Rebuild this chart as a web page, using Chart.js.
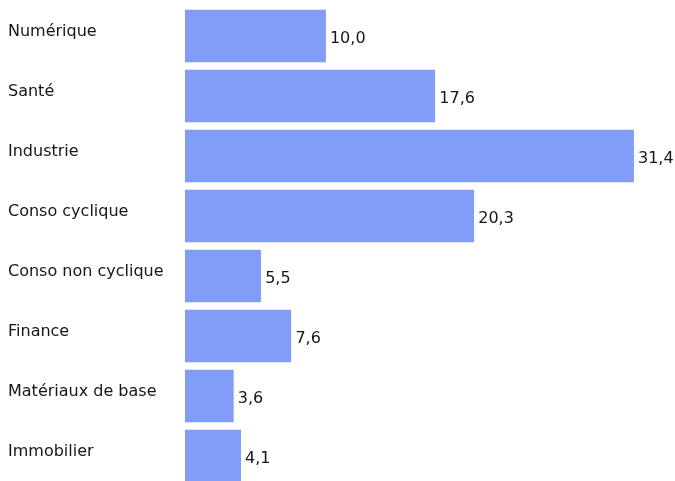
<!DOCTYPE html>
<html>
<head>
<meta charset="utf-8">
<script src="https://cdn.jsdelivr.net/npm/chart.js@4/dist/chart.umd.min.js"></script>
<style>
html,body{margin:0;padding:0;background:#fff;overflow:hidden;}
#wrap{width:675px;height:490px;position:relative;}
</style>
</head>
<body>
<div id="wrap"><canvas id="c"></canvas></div>
<script>
const categories = ["Numérique","Santé","Industrie","Conso cyclique","Conso non cyclique","Finance","Matériaux de base","Immobilier"];
const values = [10.0, 17.6, 31.4, 20.3, 5.5, 7.6, 3.6, 4.1];

const FONT = '16px "DejaVu Sans", Verdana, sans-serif';

const labelsPlugin = {
  id: 'labelsPlugin',
  afterDatasetsDraw(chart) {
    const ctx = chart.ctx;
    const meta = chart.getDatasetMeta(0);
    const yScale = chart.scales.y;
    ctx.save();
    ctx.font = FONT;
    ctx.fillStyle = '#161616';
    ctx.textBaseline = 'middle';
    ctx.textAlign = 'left';
    categories.forEach((c, i) => {
      const y = yScale.getPixelForValue(i);
      ctx.fillText(c, 8, y - 4);
    });
    meta.data.forEach((bar, i) => {
      const txt = values[i].toFixed(1).replace('.', ',');
      ctx.fillText(txt, bar.x + 4, bar.y + 3);
    });
    ctx.restore();
  }
};

new Chart(document.getElementById('c'), {
  type: 'bar',
  data: {
    labels: categories,
    datasets: [{
      data: values,
      backgroundColor: '#819df7',
      borderColor: '#ffffff',
      borderWidth: {left: 3, right: 0, top: 0, bottom: 0},
      borderSkipped: false,
      barPercentage: 0.88,
      categoryPercentage: 1.0
    }]
  },
  options: {
    indexAxis: 'y',
    responsive: true,
    maintainAspectRatio: false,
    animation: false,
    layout: {padding: {left: 8, right: 18, top: 6, bottom: 4}},
    plugins: {legend: {display: false}, tooltip: {enabled: false}},
    scales: {
      x: {display: false, min: 0, max: 33},
      y: {
        grid: {display: false},
        border: {display: false},
        ticks: {display: false},
        afterFit(scale) { scale.width = 174; }
      }
    }
  },
  plugins: [labelsPlugin]
});
</script>
</body>
</html>
